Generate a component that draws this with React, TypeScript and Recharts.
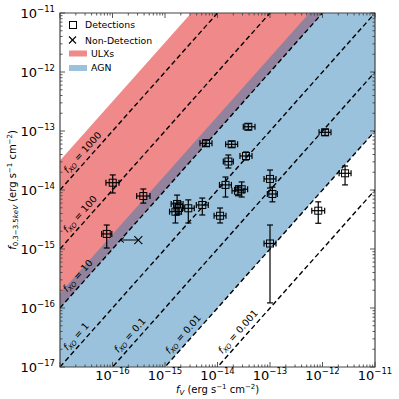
import React from 'react';
import {
  ComposedChart, Line, Area, Scatter, ErrorBar, XAxis, YAxis,
  ReferenceArea, ReferenceDot, ReferenceLine, Legend,
} from 'recharts';

const FONT = '"DejaVu Sans", sans-serif';

// axes
const X_DOMAIN: [number, number] = [1e-17, 1e-11];
const Y_DOMAIN: [number, number] = [1e-17, 1e-11];
const DECADES = [1e-17, 1e-16, 1e-15, 1e-14, 1e-13, 1e-12, 1e-11];
const MINOR_MULT = [2, 3, 4, 5, 6, 7, 8, 9];
const X_LABELED = [1e-16, 1e-15, 1e-14, 1e-13, 1e-12, 1e-11];

// f_XO reference lines
const FXO_RATIOS = [1000, 100, 10, 1, 0.1, 0.01, 0.001];
const FXO_LABELS = ['1000', '100', '10', '1', '0.1', '0.01', '0.001'];
const FXO_LABEL_FV = [3.5e-17, 3.15e-17, 2.85e-17, 2.65e-17, 2.8e-16, 2.9e-15, 3.2e-14];

// bands (f_XO ranges)
const ULX_RANGE = [10, 3162];
const AGN_RANGE = [0.01, 17.8];

// detections
const DET_FV = [1.01e-16, 3.86e-16, 7.76e-17, 3.86e-14, 6.04e-15, 1.86e-14, 3.49e-14, 1.61e-14, 1.0e-13, 1.42e-14, 2.89e-14, 2.45e-14, 1.11e-13, 1.70e-15, 1.58e-15, 1.85e-15, 2.78e-15, 5.13e-15, 1.12e-14, 1.0e-13, 1.12e-12, 2.69e-12, 8.3e-13];
const DET_FV_LO = [7.5e-17, 2.89e-16, 6.2e-17, 3.10e-14, 4.64e-15, 1.43e-14, 2.68e-14, 1.29e-14, 7.7e-14, 1.09e-14, 2.22e-14, 1.89e-14, 8.9e-14, 1.31e-15, 1.22e-15, 1.49e-15, 2.14e-15, 3.95e-15, 8.6e-15, 7.7e-14, 8.6e-13, 2.07e-12, 6.25e-13];
const DET_FV_HI = [1.33e-16, 5.18e-16, 9.7e-17, 5.18e-14, 7.86e-15, 2.42e-14, 4.54e-14, 2.0e-14, 1.3e-13, 1.84e-14, 3.75e-14, 3.19e-14, 1.38e-13, 2.21e-15, 2.06e-15, 2.30e-15, 3.61e-15, 6.67e-15, 1.45e-14, 1.3e-13, 1.45e-12, 3.5e-12, 1.10e-12];
const DET_FX = [1.33e-14, 7.9e-15, 1.80e-15, 1.18e-13, 6.19e-14, 5.95e-14, 3.77e-14, 3.04e-14, 1.54e-14, 1.22e-14, 1.03e-14, 9.7e-15, 8.55e-15, 5.8e-15, 4.29e-15, 4.95e-15, 4.9e-15, 5.57e-15, 3.66e-15, 1.24e-15, 9.5e-14, 1.92e-14, 4.46e-15];
const DET_FX_LO = [8.9e-15, 6.0e-15, 1.04e-15, 1.05e-13, 5.5e-14, 5.3e-14, 3.22e-14, 2.36e-14, 1.08e-14, 7.6e-15, 7.6e-15, 8.0e-15, 6.3e-15, 3.77e-15, 2.76e-15, 3.92e-15, 2.76e-15, 3.77e-15, 2.76e-15, 1.22e-16, 8.4e-14, 1.22e-14, 2.73e-15];
const DET_FX_HI = [1.80e-14, 1.04e-14, 2.55e-15, 1.33e-13, 7.0e-14, 6.7e-14, 4.41e-14, 3.92e-14, 2.18e-14, 1.66e-14, 1.37e-14, 1.18e-14, 1.12e-14, 8.2e-15, 6.0e-15, 6.26e-15, 6.8e-15, 7.3e-15, 4.95e-15, 2.55e-15, 1.07e-13, 2.55e-14, 6.3e-15];

// non-detection (upper limit in f_V, arrow pointing left)
const NONDET_FV = [3.1e-16];
const NONDET_FX = [1.42e-15];
const NONDET_ARROW_TO = [1.39e-16];

// ---- layout constants (plot frame in px)
const W = 399, H = 399;
const PL = 60, PR = 375, PT = 13, PB = 367;
const ANGLE = -Math.atan(((PB - PT) / 6) / ((PR - PL) / 6)) * 180 / Math.PI;
const AX = '#444';
const RED = '#f08a8a';
const BLUE = '#1f77b4';
const BLUE_OP = 0.45;

const ALL_TICKS: number[] = [];
DECADES.forEach((d, i) => {
  ALL_TICKS.push(d);
  if (i < DECADES.length - 1) MINOR_MULT.forEach((m) => ALL_TICKS.push(m * d));
});

const isMajor = (v: number) => {
  const lg = Math.log10(v);
  return Math.abs(lg - Math.round(lg)) < 1e-6;
};
const sameDecade = (a: number, b: number) => Math.abs(Math.log10(a) - Math.log10(b)) < 1e-6;
const expStr = (v: number) => {
  const e = Math.round(Math.log10(v));
  return (e < 0 ? '\u2212' : '') + Math.abs(e);
};

const lineRows = X_DOMAIN.map((fv) => {
  const row: any = { fv };
  FXO_RATIOS.forEach((r, i) => { row['l' + i] = r * fv; });
  row.ulx = [ULX_RANGE[0] * fv, ULX_RANGE[1] * fv];
  row.agn = [AGN_RANGE[0] * fv, AGN_RANGE[1] * fv];
  return row;
});

const detData = DET_FV.map((fv, i) => ({
  fv,
  fx: DET_FX[i],
  ex: [fv - DET_FV_LO[i], DET_FV_HI[i] - fv],
  ey: [DET_FX[i] - DET_FX_LO[i], DET_FX_HI[i] - DET_FX[i]],
}));
const nonDetData = NONDET_FV.map((fv, i) => ({ fv, fx: NONDET_FX[i] }));

const XTick = (props: any) => {
  const { x, payload } = props;
  const v = payload.value;
  const major = isMajor(v);
  const labeled = major && X_LABELED.some((t) => sameDecade(t, v));
  const len = major ? 5 : 2.5;
  return (
    <g>
      <line x1={x} x2={x} y1={PB} y2={PB - len} stroke={AX} strokeWidth={0.9} />
      <line x1={x} x2={x} y1={PT} y2={PT + len} stroke={AX} strokeWidth={0.9} />
      {labeled && (
        <text x={x} y={380} textAnchor="middle" fontFamily={FONT} fontSize={13} fill="#000">
          <tspan>10</tspan>
          <tspan dy={-6} fontSize={8.5}>{expStr(v)}</tspan>
        </text>
      )}
    </g>
  );
};

const YTick = (props: any) => {
  const { y, payload } = props;
  const v = payload.value;
  const major = isMajor(v);
  const len = major ? 5 : 2.5;
  return (
    <g>
      <line x1={PL} x2={PL + len} y1={y} y2={y} stroke={AX} strokeWidth={0.9} />
      <line x1={PR} x2={PR - len} y1={y} y2={y} stroke={AX} strokeWidth={0.9} />
      {major && (
        <text x={55} y={y + 4.5} textAnchor="end" fontFamily={FONT} fontSize={13} fill="#000">
          <tspan>10</tspan>
          <tspan dy={-6} fontSize={8.5}>{expStr(v)}</tspan>
        </text>
      )}
    </g>
  );
};

const XLabel = () => (
  <text x={(PL + PR) / 2} y={393} textAnchor="middle" fontFamily={FONT} fontSize={10} fill="#000">
    <tspan fontStyle="italic">f</tspan>
    <tspan fontStyle="italic" fontSize={7} dy={2}>V</tspan>
    <tspan dy={-2}> (erg s</tspan>
    <tspan fontSize={7} dy={-4}>−1</tspan>
    <tspan dy={4}> cm</tspan>
    <tspan fontSize={7} dy={-4}>−2</tspan>
    <tspan dy={4}>)</tspan>
  </text>
);

const YLabel = () => (
  <text x={0} y={0} transform={`translate(16,${(PT + PB) / 2}) rotate(-90)`} textAnchor="middle" fontFamily={FONT} fontSize={10} fill="#000">
    <tspan fontStyle="italic">f</tspan>
    <tspan fontSize={7} dy={2}>0.3−3.5</tspan>
    <tspan fontSize={7} fontStyle="italic">keV</tspan>
    <tspan dy={-2}> (erg s</tspan>
    <tspan fontSize={7} dy={-4}>−1</tspan>
    <tspan dy={4}> cm</tspan>
    <tspan fontSize={7} dy={-4}>−2</tspan>
    <tspan dy={4}>)</tspan>
  </text>
);

const SquareMarker = (p: any) => (
  <rect x={p.cx - 3.5} y={p.cy - 3.5} width={7} height={7} fill="none" stroke="#000" strokeWidth={1} />
);
const CrossMarker = (p: any) => (
  <g stroke="#000" strokeWidth={1.1}>
    <line x1={p.cx - 4} y1={p.cy - 4} x2={p.cx + 4} y2={p.cy + 4} />
    <line x1={p.cx - 4} y1={p.cy + 4} x2={p.cx + 4} y2={p.cy - 4} />
  </g>
);
const ArrowHead = (p: any) => (
  <polyline points={`${p.cx + 4},${p.cy - 2.5} ${p.cx},${p.cy} ${p.cx + 4},${p.cy + 2.5}`} fill="none" stroke="#000" strokeWidth={1} />
);

const makeLineLabel = (txt: string) => (p: any) => (
  <g transform={`translate(${p.cx},${p.cy}) rotate(${ANGLE})`}>
    <text x={0} y={-5} textAnchor="middle" fontFamily={FONT} fontSize={9.6} fill="#000">
      <tspan fontStyle="italic">f</tspan>
      <tspan fontStyle="italic" fontSize={6.7} dy={2}>XO</tspan>
      <tspan dy={-2}>{` = ${txt}`}</tspan>
    </text>
  </g>
);

const LegendContent = () => (
  <svg width={110} height={62} style={{ display: 'block', overflow: 'visible' }}>
    <g fontFamily={FONT} fontSize={9.3} fill="#000">
      <rect x={7.5} y={6.5} width={7} height={7} fill="none" stroke="#000" strokeWidth={1} />
      <text x={23} y={13.3}>Detections</text>
      <g stroke="#000" strokeWidth={1.1}>
        <line x1={7} y1={21.5} x2={14} y2={28.5} />
        <line x1={7} y1={28.5} x2={14} y2={21.5} />
      </g>
      <text x={23} y={28.5}>Non-Detection</text>
      <rect x={7} y={35.5} width={18} height={6} fill={RED} />
      <text x={29} y={41.5}>ULXs</text>
      <rect x={7} y={50} width={18} height={6} fill={BLUE} fillOpacity={BLUE_OP} />
      <text x={29} y={56}>AGN</text>
    </g>
  </svg>
);

export default function App() {
  return (
    <div style={{ position: 'absolute', left: 0, top: 0, width: W, height: H, background: '#fff' }}>
      <ComposedChart
        width={W}
        height={H}
        data={lineRows}
        margin={{ top: PT, right: W - PR, bottom: 0, left: 0 }}
      >
        <XAxis
          dataKey="fv"
          type="number"
          scale="log"
          domain={X_DOMAIN}
          allowDataOverflow
          ticks={ALL_TICKS}
          interval={0}
          tick={<XTick />}
          tickLine={false}
          axisLine={false}
          height={H - PB}
          label={{ content: () => <XLabel /> }}
        />
        <YAxis
          dataKey="fx"
          type="number"
          scale="log"
          domain={Y_DOMAIN}
          allowDataOverflow
          ticks={ALL_TICKS}
          interval={0}
          tick={<YTick />}
          tickLine={false}
          axisLine={false}
          width={PL}
          label={{ content: () => <YLabel /> }}
        />
        <Legend
          layout="vertical"
          align="center"
          verticalAlign="middle"
          wrapperStyle={{ left: 62, top: 15, width: 110, height: 62 }}
          content={() => <LegendContent />}
        />
        <Area dataKey="ulx" type="linear" stroke="none" fill={RED} fillOpacity={1} isAnimationActive={false} dot={false} activeDot={false} />
        <Area dataKey="agn" type="linear" stroke="none" fill={BLUE} fillOpacity={BLUE_OP} isAnimationActive={false} dot={false} activeDot={false} />
        {FXO_RATIOS.map((r, i) => (
          <Line
            key={'l' + i}
            dataKey={'l' + i}
            type="linear"
            stroke="#000"
            strokeWidth={1.4}
            strokeDasharray="5 3"
            dot={false}
            activeDot={false}
            isAnimationActive={false}
          />
        ))}
        {FXO_RATIOS.map((r, i) => (
          <ReferenceDot
            key={'lab' + i}
            x={FXO_LABEL_FV[i]}
            y={FXO_LABEL_FV[i] * r}
            r={0}
            shape={makeLineLabel(FXO_LABELS[i])}
          />
        ))}
        <Scatter data={detData} shape={<SquareMarker />} isAnimationActive={false}>
          <ErrorBar dataKey="ey" direction="y" width={3} stroke="#000" strokeWidth={1.2} isAnimationActive={false} />
          <ErrorBar dataKey="ex" direction="x" width={3} stroke="#000" strokeWidth={1.2} isAnimationActive={false} />
        </Scatter>
        <ReferenceLine
          segment={[
            { x: NONDET_FV[0], y: NONDET_FX[0] },
            { x: NONDET_ARROW_TO[0], y: NONDET_FX[0] },
          ]}
          stroke="#000"
          strokeWidth={1}
        />
        <ReferenceDot x={NONDET_ARROW_TO[0]} y={NONDET_FX[0]} r={0} shape={<ArrowHead />} />
        <Scatter data={nonDetData} shape={<CrossMarker />} isAnimationActive={false} />
        <ReferenceArea
          x1={X_DOMAIN[0]}
          x2={X_DOMAIN[1]}
          y1={Y_DOMAIN[0]}
          y2={Y_DOMAIN[1]}
          fill="none"
          fillOpacity={0}
          stroke={AX}
          strokeWidth={1.2}
        />
      </ComposedChart>
    </div>
  );
}
